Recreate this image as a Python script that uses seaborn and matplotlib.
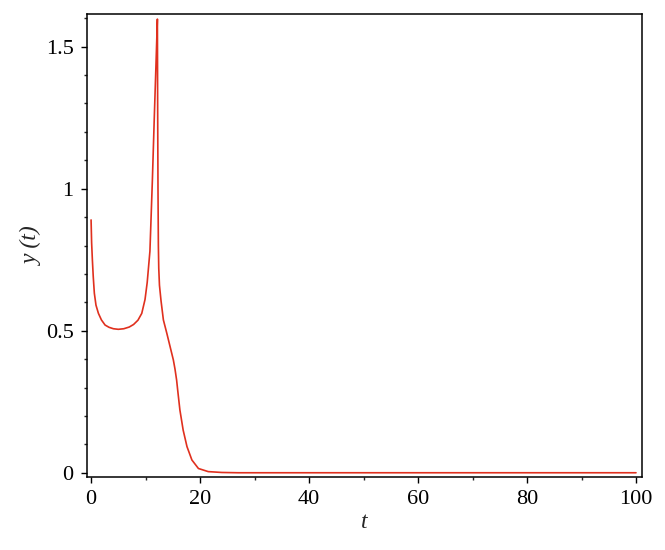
import numpy as np
import pandas as pd
import matplotlib
matplotlib.use("Agg")
import matplotlib.pyplot as plt
from matplotlib.ticker import MultipleLocator, FixedLocator, FixedFormatter
import seaborn as sns

t_vals = [0, 0.1, 0.24, 0.4, 0.6, 0.9, 1.35, 1.9, 2.57, 3.3, 4.1, 5.0, 6.0, 7.0, 7.8,
          8.6, 9.3, 9.9, 10.3, 10.8, 11.25, 11.6, 11.9, 12.17, 12.22, 12.28, 12.35,
          12.42, 12.55, 12.84, 13.27, 13.9, 14.5, 15.1, 15.4, 15.7, 15.9, 16.3, 16.9,
          17.6, 18.5, 19.7, 21.5, 24.0, 27.0, 100]
y_vals = [0.89, 0.81, 0.749, 0.69, 0.632, 0.59, 0.561, 0.538, 0.52, 0.512, 0.507,
          0.505, 0.507, 0.513, 0.522, 0.537, 0.561, 0.61, 0.67, 0.78, 1.03, 1.25,
          1.43, 1.597, 1.28, 1.0, 0.80, 0.72, 0.66, 0.605, 0.538, 0.491, 0.444, 0.397,
          0.365, 0.326, 0.29, 0.221, 0.15, 0.092, 0.045, 0.015, 0.004, 0.001, 0.0, 0.0]

x_ticks = [0, 20, 40, 60, 80, 100]
x_ticklabels = ["0", "20", "40", "60", "80", "100"]
y_ticks = [0, 0.5, 1, 1.5]
y_ticklabels = ["0", "0.5", "1", "1.5"]

sns.set_theme(style="ticks")
plt.rcParams["font.family"] = ["Liberation Serif", "DejaVu Serif"]

df = pd.DataFrame({"t": t_vals, "y": y_vals})

fig = plt.figure(figsize=(6.65, 5.5), dpi=100)
ax = fig.add_axes([0.1304, 0.1327, 0.835, 0.8413])
sns.lineplot(data=df, x="t", y="y", ax=ax, color="#e0301e", linewidth=1.2,
             sort=False, estimator=None)

ax.set_xlim(-0.8, 101.1)
ax.set_ylim(-0.015, 1.614)
ax.xaxis.set_major_locator(FixedLocator(x_ticks))
ax.xaxis.set_major_formatter(FixedFormatter(x_ticklabels))
ax.yaxis.set_major_locator(FixedLocator(y_ticks))
ax.yaxis.set_major_formatter(FixedFormatter(y_ticklabels))
ax.xaxis.set_minor_locator(MultipleLocator(10))
ax.yaxis.set_minor_locator(MultipleLocator(0.1))

ax.tick_params(which="major", direction="out", length=4.5, width=1.0,
               labelsize=16, colors="black", top=False, right=False, pad=5)
ax.tick_params(which="minor", direction="out", length=2.5, width=1.0,
               top=False, right=False)
for s in ax.spines.values():
    s.set_linewidth(1.1)
    s.set_color("black")

ax.set_xlabel("t", fontsize=17, style="italic", labelpad=2)
ax.set_ylabel("y (t)", fontsize=17, style="italic", labelpad=2)

fig.savefig("out.png", dpi=100)
